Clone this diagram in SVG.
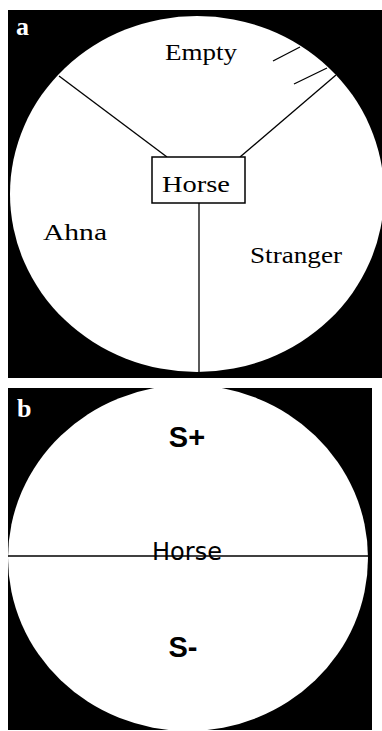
<svg xmlns="http://www.w3.org/2000/svg" width="382" height="731" viewBox="0 0 382 731">
<style>
.bg{fill:#000}
.arena{fill:#fff}
.ln{stroke:#000;stroke-width:1.3;fill:none}
.lbl{font-family:"Liberation Serif",serif;font-weight:bold;font-size:26px;fill:#fff}
.ser{font-family:"Liberation Serif",serif;font-size:24px;fill:#000}
.sans{font-family:"DejaVu Sans",sans-serif;font-size:24px;fill:#000}
.bold{font-family:"Liberation Sans",Arial,sans-serif;font-weight:bold;font-size:29px;fill:#000}
</style>
<rect width="382" height="731" fill="#fff"/>
<g id="panel-a">
<rect class="bg" x="8" y="10" width="374" height="368"/>
<ellipse class="arena" cx="197" cy="194" rx="187" ry="178"/>
<text class="lbl" x="16" y="35">a</text>
</g>
<g id="connectors">
<line class="ln" x1="59" y1="76" x2="167" y2="157"/>
<line class="ln" x1="336" y1="75" x2="240" y2="157"/>
<line class="ln" x1="199" y1="203" x2="199" y2="372"/>
<line class="ln" x1="273" y1="61" x2="300" y2="47"/>
<line class="ln" x1="294" y1="84" x2="327" y2="68"/>
</g>
<g id="node-horse-a">
<rect x="152" y="157" width="93" height="46" fill="#fff" stroke="#000" stroke-width="1.5"/>
<text class="ser" x="162" y="192" font-size="26" textLength="68" lengthAdjust="spacingAndGlyphs">Horse</text>
</g>
<g id="node-empty"><text class="ser" x="165" y="60" textLength="72" lengthAdjust="spacingAndGlyphs">Empty</text></g>
<g id="node-ahna"><text class="ser" x="43" y="240" font-size="26" textLength="64" lengthAdjust="spacingAndGlyphs">Ahna</text></g>
<g id="node-stranger"><text class="ser" x="250" y="263" textLength="92" lengthAdjust="spacingAndGlyphs">Stranger</text></g>
<g id="panel-b">
<rect class="bg" x="8" y="388" width="364" height="342"/>
<ellipse class="arena" cx="188" cy="558" rx="180" ry="173"/>
<text class="lbl" x="17" y="417">b</text>
</g>
<g id="node-splus"><text class="bold" x="187" y="447" text-anchor="middle">S+</text></g>
<g id="node-horse-b"><text class="sans" x="187" y="560" text-anchor="middle">Horse</text></g>
<g id="node-sminus"><text class="bold" x="183" y="657" text-anchor="middle">S-</text></g>
<g id="divider"><line class="ln" x1="8" y1="556" x2="368" y2="556"/></g>
</svg>
